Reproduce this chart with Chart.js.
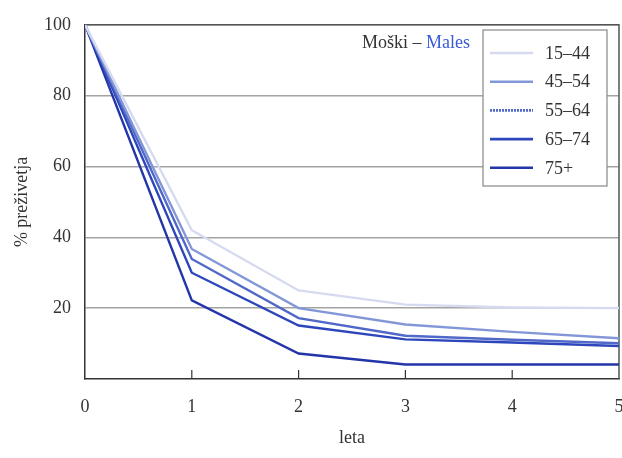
<!DOCTYPE html>
<html>
<head>
<meta charset="utf-8">
<script src="https://cdn.jsdelivr.net/npm/chart.js@4"></script>
<style>
  body { margin: 0; background: #fff; }
  #wrap { width: 622px; height: 458px; }
</style>
</head>
<body>
<div id="wrap"><canvas id="chart" width="622" height="458"></canvas></div>
<script>
// Years since diagnosis (x axis)
const years = [0, 1, 2, 3, 4, 5];

// Age groups
const groups = ["15–44", "45–54", "55–64", "65–74", "75+"];

// % survival per age group
const surv1544 = [100, 42, 25, 21, 20.2, 20];
const surv4554 = [100, 36.7, 20, 15.4, 13.3, 11.5];
const surv5564 = [100, 33.9, 17.2, 12.2, 11.1, 10.1];
const surv6574 = [100, 30, 15.1, 11.2, 10.3, 9.3];
const surv75 = [100, 22.2, 7.2, 4.1, 4.1, 4.1];

const yTicks = [20, 40, 60, 80, 100];

// Line colours, light to dark
const colors = ['#d5daf0', '#8397d8', '#5068c8', '#2d46bc', '#2236a8'];

const FONT = "'Liberation Serif', 'DejaVu Serif', serif";

function toPoints(values) {
    return values.map((v, i) => ({ x: years[i], y: v }));
}

const series = [surv1544, surv4554, surv5564, surv6574, surv75];
const datasets = series.map((vals, i) => ({
    label: groups[i],
    data: toPoints(vals),
    borderColor: colors[i],
    backgroundColor: colors[i],
    borderWidth: 2.4,
    tension: 0,
    pointRadius: 0,
    fill: false
}));

/*
    Frame on top/right and small inward ticks on the x axis
*/
const framePlugin = {
    id: 'frame',
    beforeDatasetsDraw(chart) {
        const { ctx, chartArea: a, scales: { x } } = chart;
        ctx.save();
        ctx.strokeStyle = '#555';
        ctx.lineWidth = 1.5;
        ctx.beginPath();
        ctx.moveTo(a.left, a.top);
        ctx.lineTo(a.right, a.top);
        ctx.lineTo(a.right, a.bottom);
        ctx.stroke();
        ctx.strokeStyle = '#333';
        ctx.lineWidth = 1.2;
        years.slice(1, -1).forEach(v => {
            const px = x.getPixelForValue(v);
            ctx.beginPath();
            ctx.moveTo(px, a.bottom);
            ctx.lineTo(px, a.bottom - 9);
            ctx.stroke();
        });
        ctx.restore();
    }
};

/*
    Title "Moški – Males" and the boxed legend
*/
const legendPlugin = {
    id: 'boxLegend',
    afterDraw(chart) {
        const { ctx } = chart;
        ctx.save();
        ctx.font = '18px ' + FONT;
        ctx.textBaseline = 'middle';
        ctx.textAlign = 'left';
        ctx.fillStyle = '#333';
        const part1 = 'Moški – ';
        ctx.fillText(part1, 362, 43);
        ctx.fillStyle = '#3a5ad8';
        ctx.fillText('Males', 362 + ctx.measureText(part1).width, 43);

        // box
        ctx.fillStyle = '#fff';
        ctx.fillRect(483, 30, 124, 156);
        ctx.strokeStyle = '#888';
        ctx.lineWidth = 1.2;
        ctx.strokeRect(483, 30, 124, 156);

        chart.data.datasets.forEach((ds, i) => {
            const y = 53 + i * 28.7;
            ctx.strokeStyle = ds.borderColor;
            ctx.lineWidth = 2.6;
            ctx.setLineDash(i === 2 ? [2, 1] : []);
            ctx.beginPath();
            ctx.moveTo(490, y);
            ctx.lineTo(533, y);
            ctx.stroke();
            ctx.setLineDash([]);
            ctx.fillStyle = '#333';
            ctx.fillText(ds.label, 545, y + 1);
        });
        ctx.restore();
    }
};

new Chart(document.getElementById('chart').getContext('2d'), {
    type: 'line',
    data: { datasets: datasets },
    options: {
        responsive: false,
        animation: false,
        layout: { padding: { top: 16, right: 3, left: 0, bottom: 0 } },
        plugins: {
            legend: { display: false },
            tooltip: { enabled: false }
        },
        scales: {
            x: {
                type: 'linear',
                min: 0,
                max: 5,
                afterFit: s => { s.height = 79; s.paddingRight = 0; s.paddingLeft = 0; },
                ticks: {
                    stepSize: 1,
                    padding: 17,
                    color: '#333',
                    font: { family: FONT, size: 18 }
                },
                grid: { display: false, drawTicks: false },
                border: { display: true, color: '#333', width: 1.5 },
                title: {
                    display: true,
                    text: 'leta',
                    color: '#333',
                    padding: { top: 0, bottom: 9 },
                    font: { family: FONT, size: 18 }
                }
            },
            y: {
                min: 0,
                max: 100,
                afterFit: s => { s.width = 85; },
                afterBuildTicks: s => { s.ticks = yTicks.map(v => ({ value: v })); },
                ticks: {
                    padding: 14,
                    color: '#333',
                    font: { family: FONT, size: 18 }
                },
                grid: { color: '#a3a3a3', lineWidth: 1.5, drawTicks: false },
                border: { display: true, color: '#333', width: 1.5 },
                title: {
                    display: true,
                    text: '% preživetja',
                    color: '#333',
                    padding: { top: 11, bottom: 0 },
                    font: { family: FONT, size: 18 }
                }
            }
        }
    },
    plugins: [framePlugin, legendPlugin]
});
</script>
</body>
</html>
